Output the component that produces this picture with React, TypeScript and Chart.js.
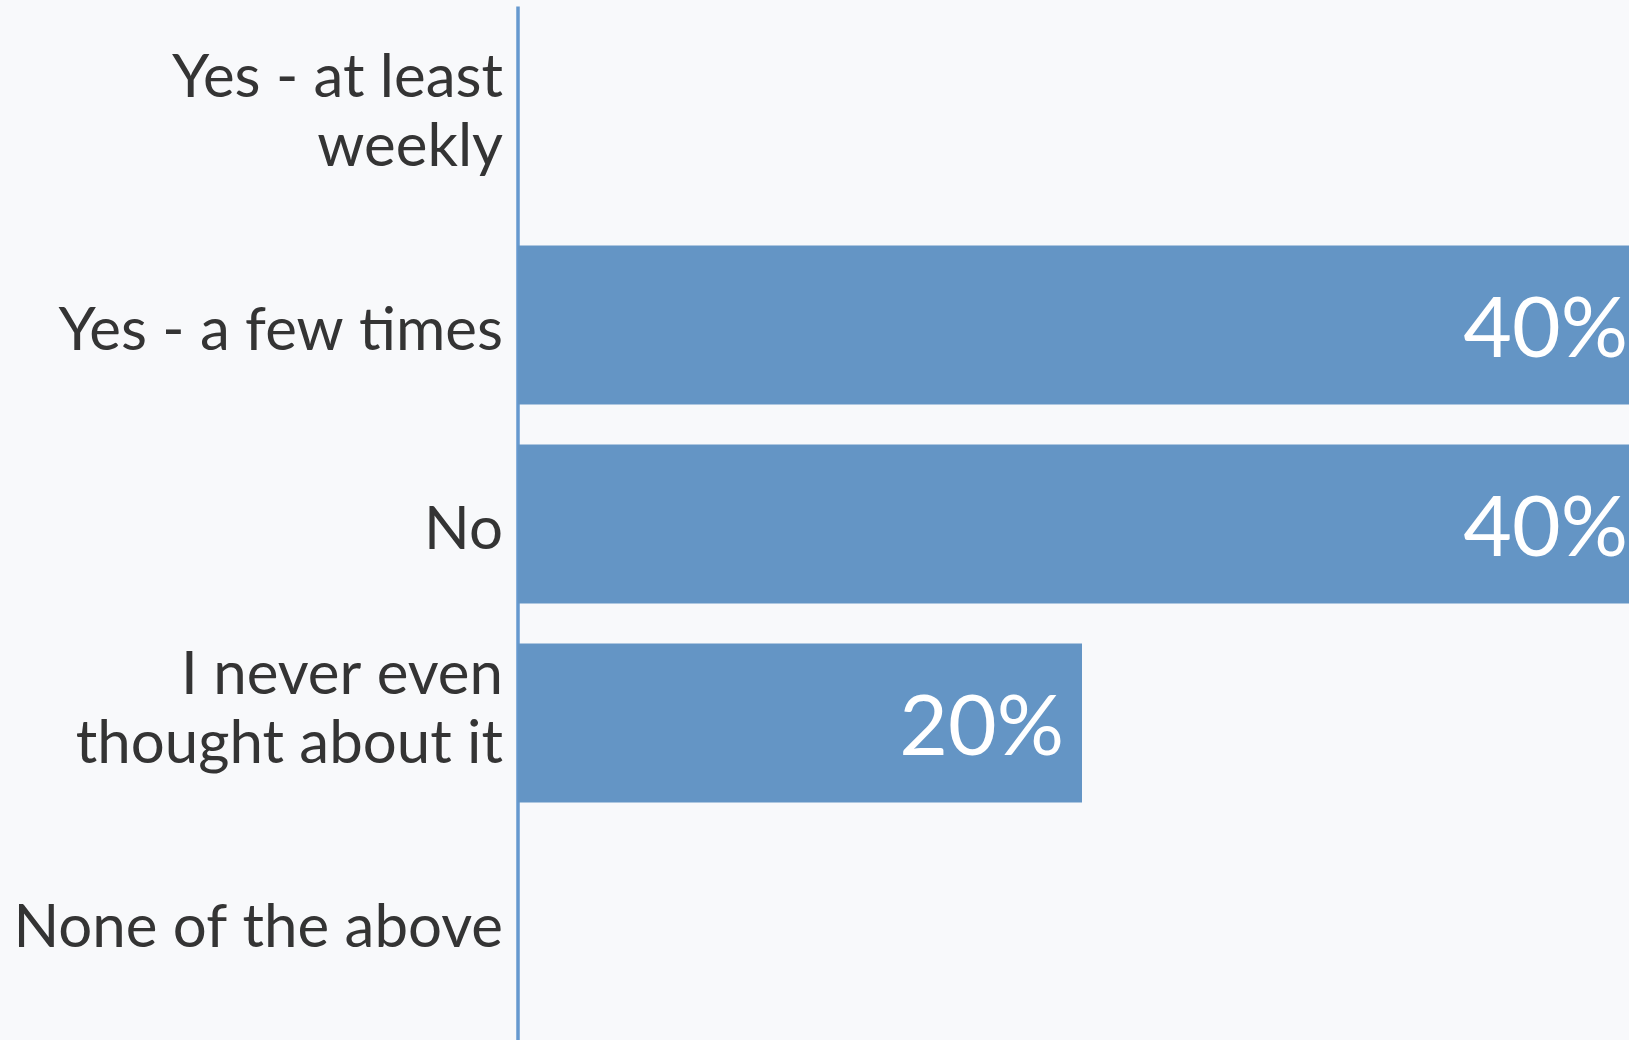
import React, { useEffect, useRef } from "react";
import { Chart, registerables } from "chart.js";

Chart.register(...registerables);

// ---- data ----
const categories: (string | string[])[] = [
  ["Yes - at least", "weekly"],
  "Yes - a few times",
  "No",
  ["I never even", "thought about it"],
  "None of the above",
];
const values: number[] = [0, 40, 40, 20, 0];
const xMin = 0;
const xMax = 40;
const valueSuffix = "%";

// ---- styles ----
const BG = "#f8f9fb";
const BAR = "#6495c5";
const AXIS = "#6699cf";
const TEXT = "#343434";
const FONT = "Lato, 'Open Sans', sans-serif";
const MULTI_LINE_SHIFT = -20;

export default function App() {
  const ref = useRef<HTMLCanvasElement>(null);

  useEffect(() => {
    if (!ref.current) return;

    const axisLine = {
      id: "axisLine",
      beforeDatasetsDraw(chart: any) {
        const { ctx, chartArea } = chart;
        ctx.save();
        ctx.strokeStyle = AXIS;
        ctx.lineWidth = 3.5;
        ctx.beginPath();
        ctx.moveTo(chartArea.left, chartArea.top - 20);
        ctx.lineTo(chartArea.left, chart.height);
        ctx.stroke();
        ctx.restore();
      },
    };

    const labelShift = {
      id: "labelShift",
      beforeDraw(chart: any) {
        const scale = chart.scales.y;
        if (!scale || !scale.getLabelItems) return;
        const items = scale.getLabelItems(chart.chartArea);
        items.forEach((it: any) => {
          if (it._shifted) return;
          if (Array.isArray(it.label) && it.label.length > 1) {
            it.textOffset += MULTI_LINE_SHIFT;
          }
          it._shifted = true;
        });
      },
    };

    const valueLabels = {
      id: "valueLabels",
      afterDatasetsDraw(chart: any) {
        const ctx = chart.ctx;
        const meta = chart.getDatasetMeta(0);
        ctx.save();
        ctx.fillStyle = "#ffffff";
        ctx.font = `84px ${FONT}`;
        ctx.textAlign = "right";
        ctx.textBaseline = "middle";
        meta.data.forEach((bar: any, i: number) => {
          const v = values[i];
          if (!v) return;
          ctx.fillText(`${v}${valueSuffix}`, bar.x - 18, bar.y + 5);
        });
        ctx.restore();
      },
    };

    const chart = new Chart(ref.current, {
      type: "bar",
      data: {
        labels: categories,
        datasets: [
          {
            data: values,
            backgroundColor: BAR,
            borderWidth: 0,
            barPercentage: 0.8,
            categoryPercentage: 1,
          },
        ],
      },
      options: {
        indexAxis: "y",
        animation: false,
        responsive: true,
        maintainAspectRatio: false,
        layout: { padding: { top: 26.5, bottom: 18.5, left: 0, right: 0 } },
        plugins: {
          legend: { display: false },
          tooltip: { enabled: false },
        },
        scales: {
          x: { display: false, min: xMin, max: xMax },
          y: {
            grid: { display: false, drawTicks: false },
            border: { display: false },
            ticks: {
              color: TEXT,
              font: { family: FONT, size: 60, lineHeight: 1.145 },
              padding: 15,
              labelOffset: 6,
            },
            afterFit(scale: any) {
              scale.width = 510;
              scale.paddingTop = 0;
              scale.paddingBottom = 0;
            },
          },
        },
      },
      plugins: [labelShift, axisLine, valueLabels],
    } as any);

    return () => chart.destroy();
  }, []);

  return (
    <div
      style={{
        position: "fixed",
        left: 0,
        top: 0,
        width: "100vw",
        height: "100vh",
        overflow: "hidden",
        background: BG,
      }}
    >
      <div
        style={{
          position: "absolute",
          left: 8,
          top: 0,
          width: 1638,
          height: 1040,
        }}
      >
        <canvas ref={ref} />
      </div>
    </div>
  );
}
